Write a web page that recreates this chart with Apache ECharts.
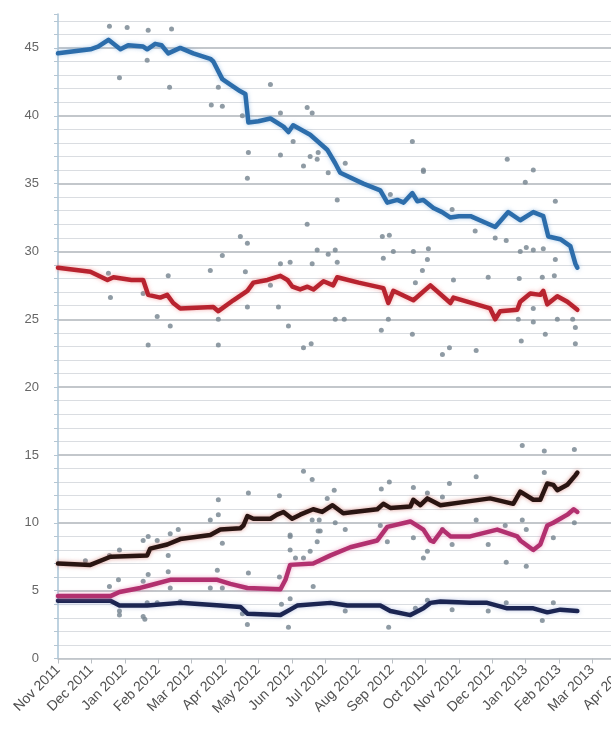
<!DOCTYPE html>
<html>
<head>
<meta charset="utf-8">
<script src="https://cdn.jsdelivr.net/npm/echarts@6/dist/echarts.min.js"></script>
<style>
html,body{margin:0;padding:0;background:#fff;}
#chart{width:611px;height:731px;}
</style>
</head>
<body>
<div id="chart"></div>
<script>
// x values are months after 1 Nov 2011 (0 = Nov 2011, 1 = Dec 2011, ...)
const monthLabels = ["Nov 2011","Dec 2011","Jan 2012","Feb 2012","Mar 2012","Apr 2012","May 2012","Jun 2012","Jul 2012","Aug 2012","Sep 2012","Oct 2012","Nov 2012","Dec 2012","Jan 2013","Feb 2013","Mar 2013","Apr 2013"];
const yTickLabels = [0,5,10,15,20,25,30,35,40,45];

const blueTrend = [[0,44.6],[0.97,44.9],[1.2,45.1],[1.51,45.6],[1.87,44.9],[2.1,45.2],[2.55,45.1],[2.67,44.9],[2.91,45.3],[3.1,45.2],[3.3,44.6],[3.66,45.0],[4.05,44.6],[4.56,44.2],[4.65,44.0],[4.92,42.7],[5.16,42.3],[5.46,41.8],[5.61,41.6],[5.7,39.5],[6.0,39.6],[6.36,39.8],[6.75,39.2],[6.9,38.8],[7.04,39.3],[7.55,38.6],[8.06,37.5],[8.3,36.5],[8.45,35.8],[9.14,35.0],[9.65,34.5],[9.86,33.6],[10.16,33.8],[10.35,33.6],[10.61,34.3],[10.76,33.7],[10.94,33.8],[11.24,33.2],[11.5,32.9],[11.75,32.5],[12.0,32.6],[12.35,32.6],[13.09,31.8],[13.48,32.9],[13.84,32.3],[14.23,32.9],[14.53,32.6],[14.68,31.1],[15.04,30.9],[15.34,30.4],[15.49,29.1],[15.55,28.8]];
const redTrend = [[0,28.8],[0.97,28.5],[1.48,27.9],[1.66,28.1],[2.2,27.9],[2.55,27.9],[2.7,26.8],[3.06,26.6],[3.27,26.8],[3.45,26.2],[3.66,25.8],[4.65,25.9],[4.8,25.6],[5.25,26.4],[5.67,27.1],[5.85,27.7],[6.27,27.9],[6.66,28.2],[6.87,27.9],[7.02,27.4],[7.25,27.2],[7.47,27.4],[7.65,27.2],[7.95,27.8],[8.24,27.5],[8.36,28.1],[9.0,27.7],[9.74,27.3],[9.89,26.2],[10.04,27.1],[10.64,26.4],[11.15,27.5],[11.75,26.2],[11.84,26.6],[12.94,25.8],[13.09,25.0],[13.24,25.6],[13.75,25.7],[13.84,26.3],[14.14,26.9],[14.44,26.8],[14.53,27.1],[14.65,26.1],[14.95,26.7],[15.25,26.3],[15.55,25.7]];
const brownTrend = [[0,7.0],[0.97,6.9],[1.57,7.5],[2.67,7.6],[2.76,8.1],[3.27,8.4],[3.66,8.8],[4.56,9.1],[4.86,9.5],[5.46,9.6],[5.55,9.8],[5.67,10.5],[5.85,10.3],[6.15,10.3],[6.36,10.3],[6.56,10.6],[6.75,10.8],[7.01,10.3],[7.25,10.6],[7.64,11.0],[7.91,10.8],[8.22,11.3],[8.54,10.7],[9.56,11.0],[9.74,11.4],[9.95,11.1],[10.55,11.2],[10.64,11.7],[10.85,11.3],[11.06,11.8],[11.45,11.3],[12.34,11.6],[12.94,11.8],[13.63,11.4],[13.84,12.3],[14.23,11.7],[14.44,11.7],[14.65,12.9],[14.83,12.8],[14.95,12.4],[15.25,12.8],[15.49,13.5],[15.55,13.7]];
const pinkTrend = [[0,4.6],[1.57,4.6],[1.84,4.9],[2.46,5.2],[2.76,5.4],[3.36,5.8],[4.77,5.8],[5.16,5.5],[5.67,5.2],[6.66,5.1],[6.81,5.8],[6.95,6.9],[7.64,7.0],[8.16,7.6],[8.75,8.2],[9.56,8.7],[9.86,9.7],[10.55,10.1],[10.94,9.5],[11.15,8.7],[11.24,8.6],[11.51,9.5],[11.75,9.0],[12.34,9.0],[13.15,9.5],[13.75,9.0],[13.84,8.7],[14.23,8.0],[14.44,8.4],[14.65,9.8],[14.83,10.0],[15.25,10.6],[15.44,11.0],[15.55,10.8]];
const navyTrend = [[0,4.25],[1.57,4.25],[1.84,3.9],[2.67,3.9],[3.66,4.1],[4.86,3.9],[5.46,3.8],[5.67,3.3],[6.66,3.2],[6.95,3.6],[7.16,3.9],[8.16,4.1],[8.66,3.9],[9.65,3.9],[9.95,3.5],[10.55,3.2],[10.94,3.7],[11.15,4.1],[11.45,4.2],[12.34,4.1],[12.85,4.1],[13.45,3.7],[14.23,3.7],[14.65,3.4],[15.04,3.6],[15.55,3.5]];

const bluePolls = [[1.54,46.6],[2.07,46.5],[2.70,46.3],[3.40,46.4],[2.67,44.1],[1.84,42.8],[3.34,42.1],[4.80,42.1],[4.59,40.8],[4.92,40.7],[6.36,42.3],[6.66,40.2],[7.46,40.6],[7.61,40.2],[5.52,40.0],[7.04,38.1],[5.70,37.3],[6.66,37.1],[7.79,37.3],[7.55,37.0],[7.76,36.8],[7.35,36.3],[5.67,35.4],[8.09,35.8],[8.60,36.5],[10.61,38.1],[10.94,36.0],[8.36,33.8],[9.95,34.2],[13.45,36.8],[14.23,36.0],[10.94,35.9],[13.99,35.1],[14.89,33.7],[11.80,33.1],[12.49,31.5],[13.09,31.0],[13.42,30.8],[13.84,30.0],[14.02,30.3],[14.23,30.1],[14.53,30.2],[14.89,29.4]];
const redPolls = [[5.46,31.1],[5.67,30.6],[4.92,29.7],[4.56,28.6],[5.61,28.5],[6.66,29.1],[6.95,29.2],[1.51,28.4],[3.30,28.2],[6.36,27.5],[1.57,26.6],[2.55,26.9],[5.67,25.9],[6.60,25.9],[2.97,25.2],[4.80,25.0],[3.36,24.5],[6.90,24.5],[2.70,23.1],[4.80,23.1],[7.46,32.0],[9.71,31.1],[9.92,31.2],[7.76,30.1],[8.09,29.8],[8.30,30.1],[7.61,29.1],[8.36,29.2],[10.04,30.0],[10.64,30.0],[11.09,30.2],[11.06,29.4],[10.91,28.6],[9.74,29.5],[11.84,27.9],[12.88,28.1],[13.81,28.0],[14.50,28.1],[14.86,28.2],[10.70,27.7],[14.23,25.8],[8.30,25.0],[8.57,25.0],[9.89,25.0],[13.78,25.0],[14.23,24.8],[14.95,25.0],[15.41,25.0],[15.49,24.4],[9.68,24.2],[10.61,23.9],[14.59,23.9],[13.87,23.4],[15.49,23.2],[11.72,22.9],[11.51,22.4],[12.52,22.7],[7.35,22.9],[7.58,23.2]];
const brownPolls = [[4.80,11.7],[4.80,10.6],[4.56,10.2],[3.60,9.5],[3.36,9.2],[2.70,9.0],[2.55,8.7],[2.97,8.7],[1.84,8.0],[1.54,7.6],[0.82,7.2],[4.92,8.5],[3.30,7.6],[7.35,13.8],[7.61,13.2],[5.70,12.2],[6.63,12.0],[8.27,12.4],[8.06,11.8],[9.68,12.5],[9.92,13.0],[10.64,12.6],[7.61,10.2],[7.82,10.2],[6.95,9.0],[8.30,10.0],[8.60,9.5],[7.85,9.4],[13.90,15.7],[14.56,15.3],[15.46,15.4],[14.56,13.7],[12.52,13.4],[11.72,12.9],[11.06,12.2],[11.51,11.9],[12.52,10.2],[13.90,10.2],[15.46,10.0]];
const pinkPolls = [[1.81,5.8],[1.54,5.3],[2.55,5.7],[2.70,6.2],[3.30,6.4],[4.77,6.5],[3.36,5.2],[4.92,5.2],[4.56,5.2],[5.70,6.3],[6.63,6.0],[6.95,8.0],[6.95,9.1],[7.11,7.4],[7.35,7.4],[7.55,7.9],[7.76,8.6],[7.79,9.4],[7.64,5.3],[9.65,9.8],[9.86,8.6],[10.64,8.9],[10.94,7.4],[11.06,7.9],[11.80,8.4],[12.88,8.4],[13.39,9.8],[13.42,7.1],[14.02,9.5],[14.02,6.8],[14.83,8.9],[11.51,9.5]];
const navyPolls = [[1.84,3.5],[2.55,3.1],[2.67,4.1],[2.97,4.1],[3.66,4.2],[6.69,4.0],[6.95,4.4],[5.52,3.3],[8.60,3.5],[10.70,3.7],[11.80,3.6],[12.88,3.5],[13.42,4.1],[14.83,4.1],[11.06,4.3],[1.84,3.2],[2.6,2.9],[5.67,2.5],[6.9,2.3],[9.9,2.3],[14.5,2.8]];

const chart = echarts.init(document.getElementById('chart'), null, {renderer: 'canvas'});

function trend(data, color, glow, z) {
  return {
    type: 'line', data: data, symbol: 'none', z: z, silent: true,
    lineStyle: {color: color, width: 4.5, shadowColor: glow, shadowBlur: 4, join: 'round', cap: 'round'}
  };
}
function polls(data) {
  return {
    type: 'scatter', data: data, symbol: 'circle', symbolSize: 5, z: 2, silent: true,
    itemStyle: {color: '#7b8994', opacity: 0.85}
  };
}

chart.setOption({
  animation: false,
  backgroundColor: '#ffffff',
  grid: {left: 58, width: 567.8, top: 14, bottom: 72.5, containLabel: false, outerBoundsMode: 'none'},
  xAxis: {
    type: 'value', min: 0, max: monthLabels.length - 1, interval: 1,
    axisLine: {show: true, lineStyle: {color: '#b9bec3', width: 1.5}},
    axisTick: {show: true, length: 5, lineStyle: {color: '#b9bec3'}},
    splitLine: {show: false},
    axisLabel: {
      rotate: 45, margin: 9, fontSize: 14, color: '#505050', fontFamily: 'Liberation Sans, Arial, sans-serif',
      showMinLabel: true, showMaxLabel: true, hideOverlap: false,
      formatter: function (v) { return monthLabels[Math.round(v)] || ''; }
    }
  },
  yAxis: [
    {
      type: 'value', min: 0, max: 47.5, interval: 1, position: 'left',
      axisLine: {show: true, lineStyle: {color: '#a9c3d6', width: 1.5}},
      axisTick: {show: true, length: 4, lineStyle: {color: '#b5c6d3'}},
      axisLabel: {show: false},
      splitLine: {show: true, showMaxLine: false, lineStyle: {color: '#dadde1', width: 1}}
    },
    {
      type: 'value', min: 0, max: 47.5, interval: 5, position: 'left',
      axisLine: {show: false}, axisTick: {show: false},
      axisLabel: {
        show: true, margin: 19, fontSize: 13, color: '#666', showMaxLabel: false,
        fontFamily: 'Liberation Sans, Arial, sans-serif',
        formatter: function (v) { return yTickLabels.indexOf(v) >= 0 ? String(v) : ''; }
      },
      splitLine: {show: true, showMaxLine: false, showMinLine: false, lineStyle: {color: '#c3c7cb', width: 2}}
    }
  ],
  series: [
    polls(bluePolls), polls(redPolls), polls(brownPolls), polls(pinkPolls), polls(navyPolls),
    trend(navyTrend, '#1b2552', 'rgba(120,140,200,0.5)', 5),
    trend(pinkTrend, '#b2306f', 'rgba(230,120,170,0.6)', 6),
    trend(brownTrend, '#2a1512', 'rgba(200,90,80,0.6)', 7),
    trend(redTrend, '#b8232f', 'rgba(240,120,120,0.6)', 8),
    trend(blueTrend, '#2c6dab', 'rgba(120,170,220,0.6)', 9)
  ]
});
</script>
</body>
</html>
